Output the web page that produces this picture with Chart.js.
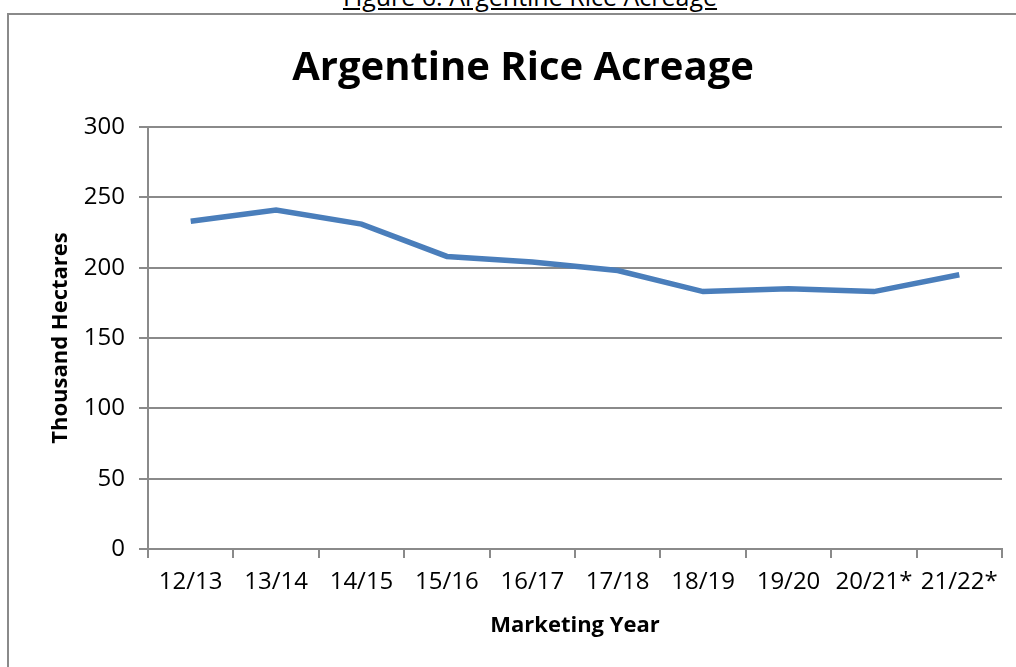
<!DOCTYPE html>
<html>
<head>
<meta charset="utf-8">
<script src="https://cdn.jsdelivr.net/npm/chart.js@4"></script>
<style>
  html, body { margin: 0; padding: 0; background: #fff; overflow: hidden; }
  #caption {
    position: absolute; left: 30px; width: 1000px; top: -17px;
    text-align: center; font-family: "Open Sans", sans-serif; font-size: 25px;
    line-height: 26px; color: #000;
  }
  #caption span { text-decoration: underline; }
  #frame {
    position: absolute; left: 7px; top: 13px; width: 1020px; height: 670px;
    border: 2px solid #8a8a8a; box-sizing: border-box;
  }
  #wrap { position: absolute; left: 6px; top: 14px; width: 1010px; height: 653px; }
</style>
</head>
<body>
<div id="caption"><span>Figure 6: Argentine Rice Acreage</span></div>
<div id="frame"></div>
<div id="wrap"><canvas id="riceChart"></canvas></div>
<script>
const years = ["12/13", "13/14", "14/15", "15/16", "16/17", "17/18", "18/19", "19/20", "20/21*", "21/22*"];
const acreage = [233, 241, 231, 208, 204, 198, 183, 185, 183, 195];
const yTicks = [0, 50, 100, 150, 200, 250, 300];

const gridGrey = "#8a8a8a";

new Chart(
    document.getElementById("riceChart"),
    {
        type: "line",
        data: {
            labels: years,
            datasets: [{
                label: "Acreage",
                data: acreage,
                borderColor: "#4a7ebb",
                borderWidth: 5.5,
                pointRadius: 0,
                tension: 0,
                fill: false
            }]
        },
        options: {
            responsive: true,
            maintainAspectRatio: false,
            animation: false,
            layout: { padding: { left: 38, right: 14, bottom: 24, top: 0 } },
            plugins: {
                legend: { display: false },
                tooltip: { enabled: false },
                title: {
                    display: true,
                    text: "Argentine Rice Acreage",
                    color: "#000",
                    font: { family: "Open Sans", size: 40, weight: "bold", lineHeight: 1.2 },
                    padding: { top: 31, bottom: 34 }
                }
            },
            scales: {
                x: {
                    offset: true,
                    grid: {
                        offset: true,
                        drawOnChartArea: false,
                        drawTicks: true,
                        tickLength: 9,
                        color: gridGrey,
                        lineWidth: 2
                    },
                    border: { color: gridGrey, width: 2 },
                    ticks: {
                        color: "#000",
                        font: { family: "Open Sans", size: 24 },
                        padding: 10,
                        maxRotation: 0,
                        autoSkip: false
                    },
                    title: {
                        display: true,
                        text: "Marketing Year",
                        color: "#000",
                        font: { family: "Open Sans", size: 22, weight: "bold" },
                        padding: 4
                    },
                    afterFit: function (scale) { scale.height = 94; }
                },
                y: {
                    min: 0,
                    max: 300,
                    afterBuildTicks: function (scale) {
                        scale.ticks = yTicks.map(function (v) { return { value: v }; });
                    },
                    grid: {
                        color: gridGrey,
                        lineWidth: 2,
                        tickLength: 9
                    },
                    border: { color: gridGrey, width: 2 },
                    ticks: {
                        color: "#000",
                        font: { family: "Open Sans", size: 24 },
                        padding: 14
                    },
                    title: {
                        display: true,
                        text: "Thousand Hectares",
                        color: "#000",
                        font: { family: "Open Sans", size: 22, weight: "bold" },
                        padding: 4
                    },
                    afterFit: function (scale) { scale.width = 104; }
                }
            }
        }
    }
);
</script>
</body>
</html>
